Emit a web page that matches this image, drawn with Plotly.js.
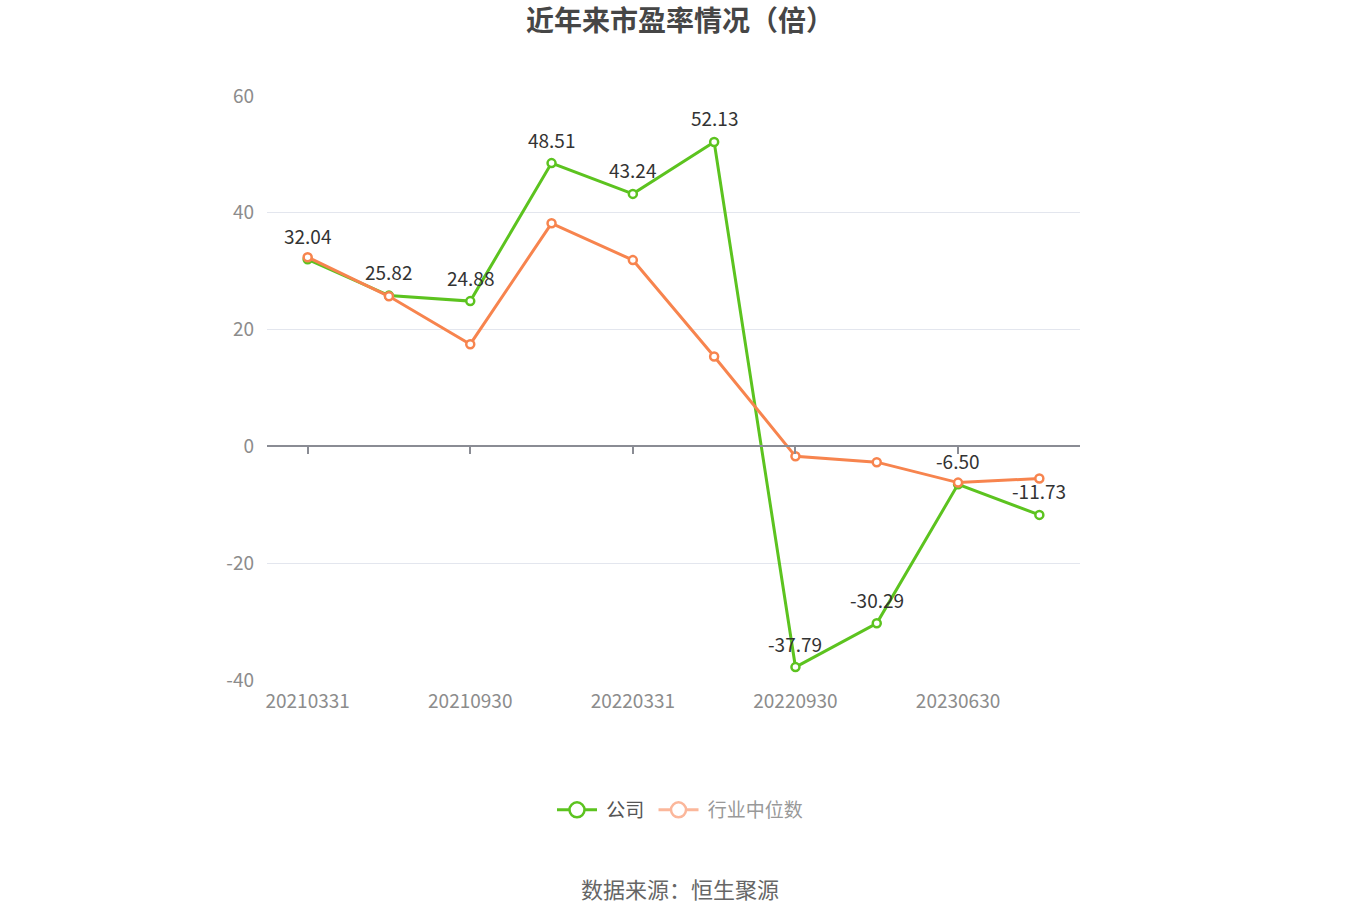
<!DOCTYPE html>
<html>
<head>
<meta charset="utf-8">
<script src="https://cdn.plot.ly/plotly-3.0.1.min.js"></script>
<style>
  html, body { margin: 0; padding: 0; background: #fff; }
  #plot { width: 1360px; height: 920px; }
</style>
</head>
<body>
<div id="plot"></div>
<script>
const periods = ["20210331", "20210630", "20210930", "20211231", "20220331",
  "20220630", "20220930", "20221231", "20230630", "20230930"];
const companyPE = [32.04, 25.82, 24.88, 48.51, 43.24, 52.13, -37.79, -30.29, -6.50, -11.73];
const industryPE = [32.4, 25.7, 17.5, 38.2, 31.9, 15.4, -1.7, -2.7, -6.2, -5.5];
const shownTicks = ["20210331", "20210930", "20220331", "20220930", "20230630"];
const yTicks = [-40, -20, 0, 20, 40, 60];

const green = "#5cc31f";
const orange = "#f7844e";
const font = "Noto Sans CJK SC, Noto Sans, sans-serif";

const yMin = -40, yMax = 60;

const markerOf = (c, size) => ({ symbol: "circle", size: size, color: "#fff", line: { color: c, width: 2.5 } });

const company = {
  x: periods,
  y: companyPE,
  name: "公司",
  type: "scatter",
  mode: "lines+markers",
  line: { color: green, width: 3 },
  marker: markerOf(green, 8),
  cliponaxis: false,
  showlegend: false,
  hoverinfo: "skip",
};

const industry = {
  x: periods,
  y: industryPE,
  xaxis: "x2",
  name: "行业中位数",
  type: "scatter",
  mode: "lines+markers",
  line: { color: orange, width: 3 },
  marker: markerOf(orange, 8),
  cliponaxis: false,
  showlegend: false,
  hoverinfo: "skip",
};

// legend-only entries (no data points) with the larger legend symbols
const companyKey = {
  x: [null], y: [null], type: "scatter", mode: "lines+markers",
  name: "<span style='color:#555'>\u00a0公司\u00a0</span>",
  line: { color: green, width: 3 }, marker: markerOf(green, 15),
  hoverinfo: "skip",
};
const industryKey = {
  x: [null], y: [null], type: "scatter", mode: "lines+markers",
  name: "<span style='color:#999'>\u00a0行业中位数</span>",
  line: { color: "#fbb79b", width: 3 }, marker: markerOf("#fbb79b", 15),
  hoverinfo: "skip",
};

const labelNotes = companyPE.map((v, i) => ({
  x: i, y: v, xref: "x", yref: "y",
  text: v.toFixed(2),
  showarrow: false, yshift: 24,
  font: { family: font, size: 19, color: "#333" },
}));

const layout = {
  width: 1360,
  height: 920,
  margin: { l: 267, r: 280, t: 96, b: 240 },
  paper_bgcolor: "#fff",
  plot_bgcolor: "#fff",
  showlegend: true,
  title: {
    text: "<b>近年来市盈率情况（倍）</b>",
    font: { family: font, size: 28, color: "#464646" },
    x: 0.5, xanchor: "center", y: 1 - 21 / 920, yref: "container", yanchor: "middle",
  },
  xaxis: {
    type: "category",
    categoryorder: "array",
    categoryarray: periods,
    range: [-0.5, 9.5],
    tickvals: shownTicks,
    showgrid: false,
    showline: false,
    zeroline: false,
    ticks: "",
    ticklabelstandoff: 8,
    tickfont: { family: font, size: 19, color: "#8c8c8c" },
    fixedrange: true,
  },
  xaxis2: {
    type: "category",
    categoryorder: "array",
    categoryarray: periods,
    range: [-0.5, 9.5],
    overlaying: "x",
    anchor: "free",
    position: (0 - yMin) / (yMax - yMin),
    side: "bottom",
    tickvals: shownTicks,
    showticklabels: false,
    showgrid: false,
    zeroline: false,
    showline: true,
    linecolor: "#8a8c94",
    linewidth: 1.5,
    ticks: "outside",
    ticklen: 7,
    tickwidth: 1.5,
    tickcolor: "#8a8c94",
    fixedrange: true,
  },
  yaxis: {
    range: [yMin, yMax],
    tickvals: yTicks,
    ticktext: yTicks.map(String),
    showgrid: true,
    gridcolor: "#e3e6ee",
    gridwidth: 1.2,
    zeroline: false,
    showline: false,
    ticks: "",
    ticklabelstandoff: 12,
    tickfont: { family: font, size: 19, color: "#8c8c8c" },
    fixedrange: true,
  },
  legend: {
    orientation: "h",
    x: 0.5, xanchor: "center",
    y: 110 / 920, yanchor: "middle",
    xref: "container", yref: "container",
    font: { family: font, size: 19, color: "#555" },
    itemwidth: 40,
  },
  annotations: labelNotes.concat([{
    text: "数据来源：恒生聚源",
    xref: "paper", yref: "paper",
    x: (680 - 267) / (1360 - 267 - 280), xanchor: "center",
    y: -(888 - 680) / (920 - 96 - 240), yanchor: "middle",
    showarrow: false,
    font: { family: font, size: 22, color: "#666" },
  }]),
};

Plotly.newPlot(document.querySelector("#plot"), [company, industry, companyKey, industryKey], layout, {
  displayModeBar: false,
  responsive: false,
});
</script>
</body>
</html>
